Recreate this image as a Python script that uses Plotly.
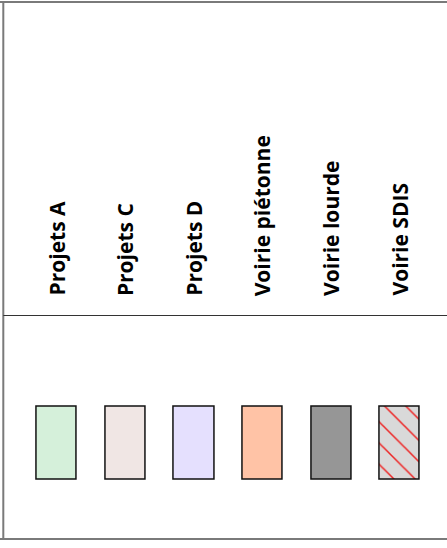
import plotly.graph_objects as go

# Data
categories = ["Projets A", "Projets C", "Projets D", "Voirie piétonne", "Voirie lourde", "Voirie SDIS"]
fill_colors = ["#d5f0da", "#f0e6e4", "#e5e0fe", "#ffc3a6", "#969696", "#d9d9d9"]
hatched = [False, False, False, False, False, True]
swatch_values = [1, 1, 1, 1, 1, 1]

W, H = 447, 548

plain_x = [c for c, h in zip(categories, hatched) if not h]
plain_y = [v for v, h in zip(swatch_values, hatched) if not h]
plain_c = [col for col, h in zip(fill_colors, hatched) if not h]
hat_x = [c for c, h in zip(categories, hatched) if h]
hat_y = [v for v, h in zip(swatch_values, hatched) if h]
hat_c = [col for col, h in zip(fill_colors, hatched) if h]

fig = go.Figure()
fig.add_trace(go.Bar(
    x=plain_x, y=plain_y, base=0, width=0.585,
    marker=dict(color=plain_c, line=dict(color="#111111", width=1.5)),
    hoverinfo="skip", showlegend=False,
))
fig.add_trace(go.Bar(
    x=hat_x, y=hat_y, base=0, width=0.585,
    marker=dict(
        color=hat_c[0],
        line=dict(color="#111111", width=1.5),
        pattern=dict(shape="\\", fgcolor="#ee2222", bgcolor=hat_c[0],
                     fgopacity=1, size=15, solidity=0.1, fillmode="replace"),
    ),
    hoverinfo="skip", showlegend=False,
))

for c in categories:
    fig.add_annotation(
        x=c, xref="x", y=1 - 298 / H, yref="paper",
        text="<b>%s</b>" % c, textangle=-90,
        showarrow=False, xanchor="center", yanchor="bottom",
        font=dict(family="Open Sans", size=21, color="#000000"),
    )

# Table borders
border = "#7a7a7a"
fig.add_shape(type="line", xref="paper", yref="paper", x0=0, x1=1,
              y0=1 - 2 / H, y1=1 - 2 / H, line=dict(color=border, width=2))
fig.add_shape(type="line", xref="paper", yref="paper", x0=0, x1=1,
              y0=1 - 539 / H, y1=1 - 539 / H, line=dict(color=border, width=2))
fig.add_shape(type="line", xref="paper", yref="paper", x0=3.3 / W, x1=3.3 / W,
              y0=1 - 539 / H, y1=1 - 2 / H, line=dict(color=border, width=2))
fig.add_shape(type="line", xref="paper", yref="paper", x0=3.3 / W, x1=1,
              y0=1 - 315.5 / H, y1=1 - 315.5 / H, line=dict(color="#333333", width=1.2))

x0 = 57 - 68.6 / 2
x1 = 400 + 68.6 / 2
pad = 0.03
unit = 73.0
fig.update_layout(
    width=W, height=H,
    margin=dict(l=0, r=0, t=0, b=0),
    paper_bgcolor="white", plot_bgcolor="white",
    xaxis=dict(domain=[x0 / W, x1 / W], range=[-0.5, 5.5], visible=False,
               type="category", categoryorder="array", categoryarray=categories,
               fixedrange=True),
    yaxis=dict(domain=[1 - (480 + pad * unit) / H, 1 - (407 - pad * unit) / H],
               range=[-pad, 1 + pad], visible=False, fixedrange=True),
    barmode="overlay",
    bargap=0,
)

fig.write_html("out.html", config={"displayModeBar": False},
               post_script="document.body.style.margin='0';document.body.style.overflow='hidden';")
